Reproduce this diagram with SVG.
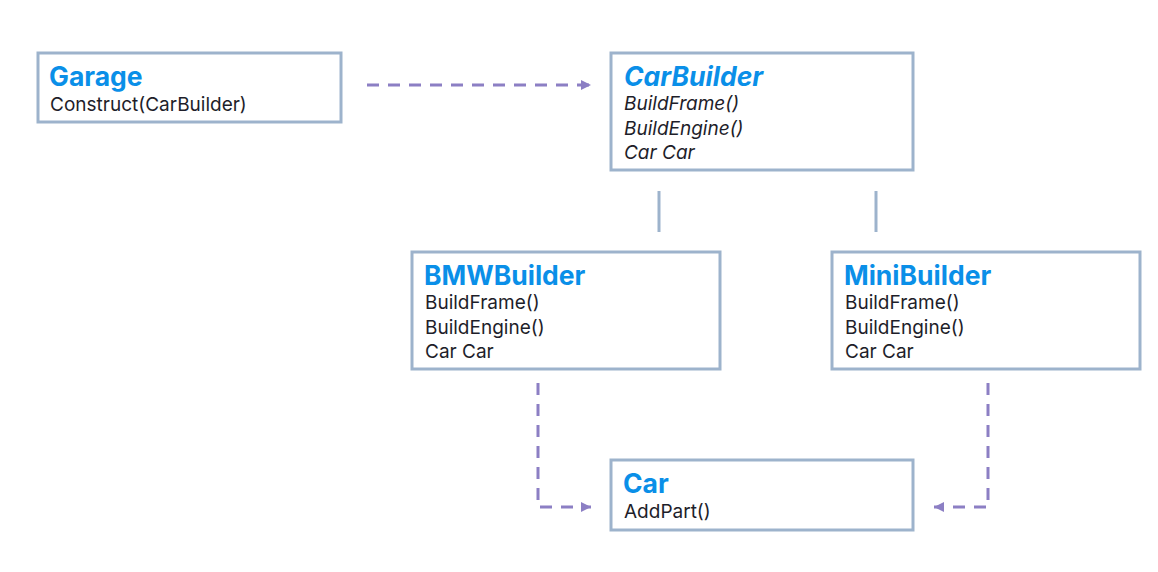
<svg xmlns="http://www.w3.org/2000/svg" width="1158" height="572" viewBox="0 0 1158 572">
<style>
.box{fill:#fff;stroke:#9db3cc;stroke-width:3}
.t{font-family:Inter,"Noto Sans",sans-serif;font-weight:700;font-size:26.5px;fill:#0a8fe8}
.b{font-family:Inter,"Noto Sans",sans-serif;font-size:19px;fill:#1e1e2a}
.i{font-style:italic}
.dash{fill:none;stroke:#8c7fc4;stroke-width:3;stroke-dasharray:12 9}
.solid{stroke:#9db3cc;stroke-width:3}
</style>
<defs>
<marker id="ah" viewBox="0 0 10 10" refX="10" refY="5" markerWidth="10" markerHeight="10" markerUnits="userSpaceOnUse" orient="auto">
<path d="M0,0 L10,5 L0,10 Z" fill="#8c7fc4"/>
</marker>
</defs>
<rect width="1158" height="572" fill="#fff"/>
<g id="connectors">
<line class="dash" x1="367" y1="85" x2="591" y2="85" marker-end="url(#ah)"/>
<line class="solid" x1="659" y1="191" x2="659" y2="232"/>
<line class="solid" x1="876" y1="191" x2="876" y2="232"/>
<path class="dash" d="M538,383 L538,507 L591,507" marker-end="url(#ah)"/>
<path class="dash" d="M988,383 L988,507 L934,507" marker-end="url(#ah)"/>
</g>
<g id="garage">
<rect class="box" x="38" y="53" width="303" height="69"/>
<text class="t" x="49" y="86">Garage</text>
<text class="b" x="50" y="111">Construct(CarBuilder)</text>
</g>
<g id="carbuilder">
<rect class="box" x="611" y="53" width="302" height="117"/>
<text class="t i" x="624" y="86">CarBuilder</text>
<text class="b i" x="624" y="110">BuildFrame()</text>
<text class="b i" x="624" y="135">BuildEngine()</text>
<text class="b i" x="624" y="159">Car Car</text>
</g>
<g id="bmwbuilder">
<rect class="box" x="412" y="252" width="308" height="117"/>
<text class="t" x="424" y="285">BMWBuilder</text>
<text class="b" x="425" y="309">BuildFrame()</text>
<text class="b" x="425" y="334">BuildEngine()</text>
<text class="b" x="425" y="358">Car Car</text>
</g>
<g id="minibuilder">
<rect class="box" x="832" y="252" width="308" height="117"/>
<text class="t" x="844" y="285">MiniBuilder</text>
<text class="b" x="845" y="309">BuildFrame()</text>
<text class="b" x="845" y="334">BuildEngine()</text>
<text class="b" x="845" y="358">Car Car</text>
</g>
<g id="car">
<rect class="box" x="611" y="460" width="302" height="70"/>
<text class="t" x="623" y="493">Car</text>
<text class="b" x="624" y="518">AddPart()</text>
</g>
</svg>
